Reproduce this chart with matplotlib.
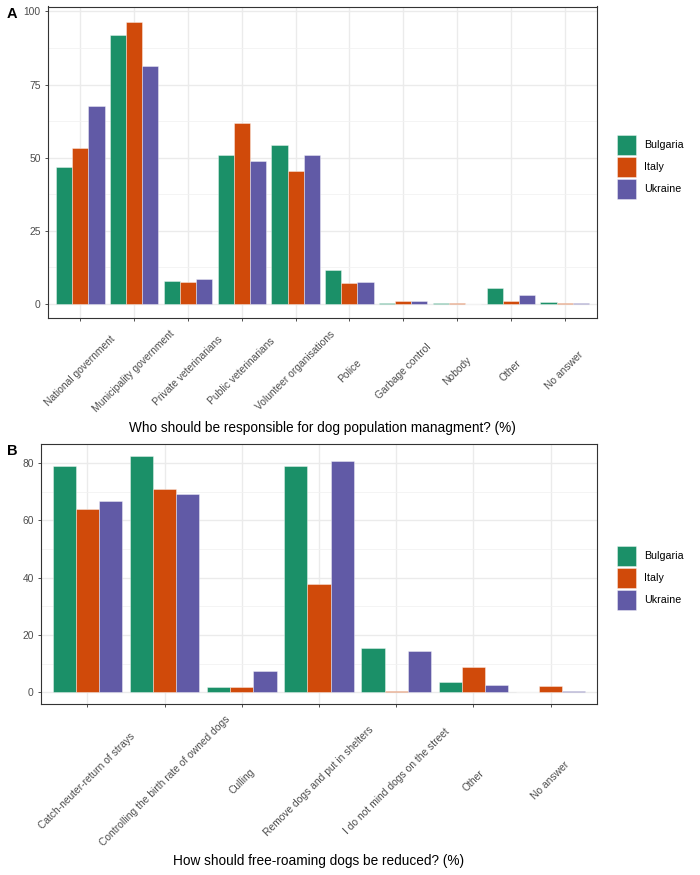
import matplotlib
matplotlib.use("Agg")
import matplotlib.pyplot as plt
import numpy as np
from matplotlib.patches import Patch

plt.rcParams['font.family'] = ['Liberation Sans', 'DejaVu Sans']

countries = ["Bulgaria", "Italy", "Ukraine"]
colors = ["#1b9068", "#d04a0a", "#615aa6"]

cats_a = ["National government", "Municipality government", "Private veterinarians",
          "Public veterinarians", "Volunteer organisations", "Police", "Garbage control",
          "Nobody", "Other", "No answer"]
bulgaria_a = [46.7, 92.1, 7.8, 50.8, 54.4, 11.5, 0.4, 0.3, 5.3, 0.8]
italy_a = [53.4, 96.3, 7.4, 61.8, 45.6, 7.1, 1.0, 0.2, 1.0, 0.3]
ukraine_a = [67.6, 81.2, 8.5, 49.0, 50.8, 7.5, 1.1, 0.1, 2.9, 0.3]

cats_b = ["Catch-neuter-return of strays", "Controlling the birth rate of owned dogs",
          "Culling", "Remove dogs and put in shelters", "I do not mind dogs on the street",
          "Other", "No answer"]
bulgaria_b = [78.8, 82.4, 2.0, 78.8, 15.5, 3.6, 0.2]
italy_b = [63.8, 70.8, 1.7, 37.8, 0.6, 8.9, 2.1]
ukraine_b = [66.8, 69.2, 7.4, 80.5, 14.5, 2.7, 0.6]

title_a = "Who should be responsible for dog population managment? (%)"
title_b = "How should free-roaming dogs be reduced? (%)"

W, H = 700, 875
fig = plt.figure(figsize=(7, 8.75), dpi=100)

def make_axes(l, t, r, b):
    return fig.add_axes([l / W, 1 - b / H, (r - l) / W, (b - t) / H])

def draw(ax, cats, series, yticks, ylim, label_center_px):
    n = len(cats)
    x = np.arange(n)
    w = 0.3
    for i, (vals, c) in enumerate(zip(series, colors)):
        ax.bar(x + (i - 1) * w, vals, width=w, color=c,
               edgecolor=(1, 1, 1, 0.45), linewidth=0.6, zorder=3)
    ax.set_xlim(-0.6, n - 0.4)
    ax.set_ylim(*ylim)
    ax.set_yticks(yticks)
    ax.set_yticklabels([str(v) for v in yticks])
    minor = [(yticks[k] + yticks[k + 1]) / 2 for k in range(len(yticks) - 1)]
    ax.set_yticks(minor, minor=True)
    ax.set_xticks(x)
    ax.set_xticklabels(cats, rotation=45, ha="center", va="center", rotation_mode="anchor")
    ax.grid(True, which="major", color="#EBEBEB", linewidth=1.0, zorder=0)
    ax.grid(True, which="minor", axis="y", color="#F2F2F2", linewidth=0.6, zorder=0)
    ax.tick_params(which="minor", length=0)
    ax.tick_params(which="major", length=3 * 0.72, width=0.6, color="#333333",
                   labelsize=7.4, labelcolor="#4D4D4D", pad=3)
    ax.tick_params(axis="x", pad=label_center_px * 0.72 - 3 * 0.72)
    for s in ax.spines.values():
        s.set_color("#333333")
        s.set_linewidth(0.8)
    ax.set_axisbelow(True)

ax1 = make_axes(48, 6.5, 597, 318)
draw(ax1, cats_a, [bulgaria_a, italy_a, ukraine_a], [0, 25, 50, 75, 100], (-4.8, 101.7), 53)
ax2 = make_axes(41, 444, 597, 704)
draw(ax2, cats_b, [bulgaria_b, italy_b, ukraine_b], [0, 20, 40, 60, 80], (-4.1, 86.6), 77)

fig.text((48 + 597) / 2 / W, 1 - 428 / H, title_a, fontsize=9.8, ha="center", va="center")
fig.text((41 + 597) / 2 / W, 1 - 861 / H, title_b, fontsize=9.8, ha="center", va="center")

handles = [Patch(facecolor=c, edgecolor=(1, 1, 1, 0.45), linewidth=0.6, label=n)
           for c, n in zip(colors, countries)]
for yc in (167, 578):
    fig.legend(handles=handles, loc="center left", bbox_to_anchor=(617 / W, 1 - yc / H),
               frameon=False, fontsize=7.7, handlelength=1.78, handleheight=2.42,
               labelspacing=0.22, handletextpad=0.75, borderaxespad=0, borderpad=0)

fig.text(7 / W, 1 - 14 / H, "A", fontsize=10.5, fontweight="bold", va="center", ha="left")
fig.text(7 / W, 1 - 451 / H, "B", fontsize=10.5, fontweight="bold", va="center", ha="left")

fig.savefig("out.png", dpi=100)
